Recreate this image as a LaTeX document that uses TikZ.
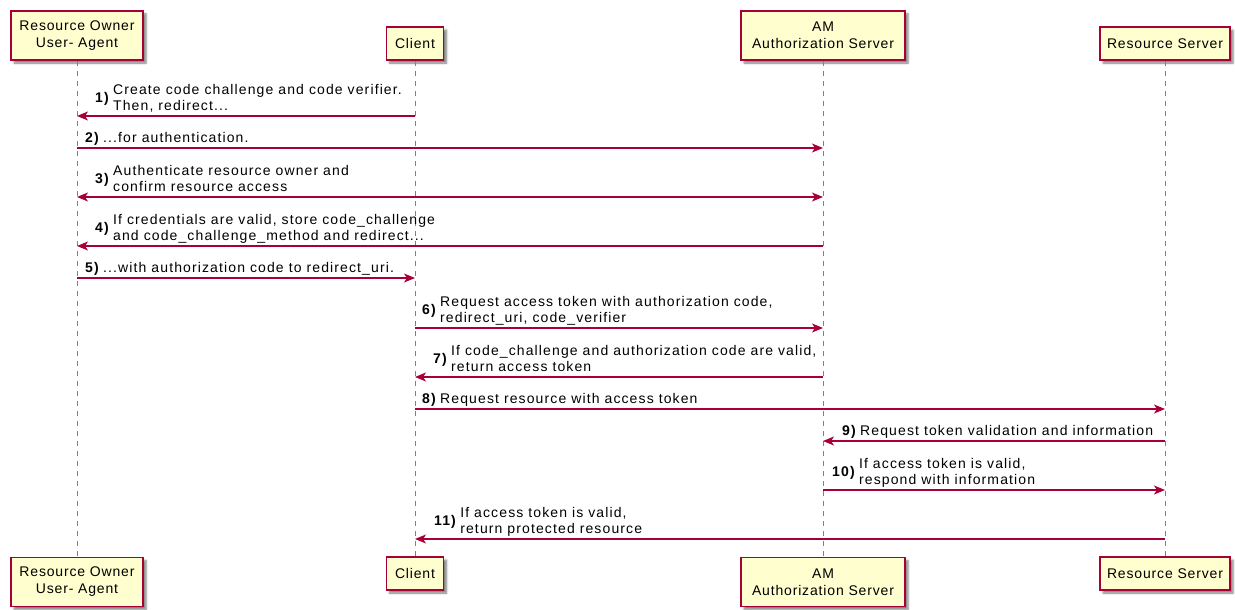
\documentclass[tikz,border=0pt]{standalone}
\usepackage{fontspec}
\setmainfont{Liberation Sans}[LetterSpace=6]
\newfontfamily\lblfont{Liberation Sans}[LetterSpace=8]
\usetikzlibrary{arrows.meta,shadows.blur,calc}
\definecolor{pumlred}{HTML}{A80036}
\definecolor{pumlfill}{HTML}{FEFECE}
\definecolor{lifegray}{HTML}{808080}
\tikzset{
  part/.style={draw=pumlred, line width=1.8pt, fill=pumlfill, inner sep=0pt, align=center,
    font=\fontsize{14}{17}\selectfont,
    blur shadow={shadow xshift=3pt, shadow yshift=-3pt, shadow blur steps=5, shadow blur radius=2pt, shadow opacity=50}},
  life/.style={draw=lifegray, line width=0.8pt, dash pattern=on 5pt off 5pt},
  msg/.style={draw=pumlred, line width=1.5pt, -{Stealth[length=11pt,width=9pt,inset=3pt]}},
  bimsg/.style={draw=pumlred, line width=1.5pt, {Stealth[length=11pt,width=9pt,inset=3pt]}-{Stealth[length=11pt,width=9pt,inset=3pt]}},
  num/.style={anchor=base west, inner sep=0pt, font=\lblfont\fontsize{14}{16}\selectfont\bfseries},
  txt/.style={anchor=base west, inner sep=0pt, font=\lblfont\fontsize{14}{16}\selectfont},
}
\begin{document}
\begin{tikzpicture}[x=1pt,y=-1pt]
\useasboundingbox (0,0) rectangle (1235,610);
% participants top
\node[part, minimum width=132pt, minimum height=49pt] (roT) at (77,35.5) {Resource Owner\\User- Agent};
\node[part, minimum width=57pt, minimum height=33pt] (clT) at (415,43.5) {Client};
\node[part, minimum width=164pt, minimum height=49pt] (amT) at (823,35.5) {AM\\Authorization Server};
\node[part, minimum width=130pt, minimum height=33pt] (rsT) at (1165,43.5) {Resource Server};
% participants bottom
\node[part, minimum width=132pt, minimum height=49pt] (roB) at (77,582) {Resource Owner\\User- Agent};
\node[part, minimum width=57pt, minimum height=33pt] (clB) at (415,573.5) {Client};
\node[part, minimum width=164pt, minimum height=49pt] (amB) at (823,582) {AM\\Authorization Server};
\node[part, minimum width=130pt, minimum height=33pt] (rsB) at (1165,573.5) {Resource Server};
% lifelines
\draw[life] (roT) -- (roB);
\draw[life] (clT) -- (clB);
\draw[life] (amT) -- (amB);
\draw[life] (rsT) -- (rsB);
% messages
\draw[msg] (clT |- 0,116) -- (roT |- 0,116);
\draw[msg] (roT |- 0,148) -- (amT |- 0,148);
\draw[bimsg] (roT |- 0,197) -- (amT |- 0,197);
\draw[msg] (amT |- 0,246) -- (roT |- 0,246);
\draw[msg] (roT |- 0,278) -- (clT |- 0,278);
\draw[msg] (clT |- 0,328) -- (amT |- 0,328);
\draw[msg] (amT |- 0,377) -- (clT |- 0,377);
\draw[msg] (clT |- 0,409) -- (rsT |- 0,409);
\draw[msg] (rsT |- 0,441) -- (amT |- 0,441);
\draw[msg] (amT |- 0,490) -- (rsT |- 0,490);
\draw[msg] (rsT |- 0,539) -- (clT |- 0,539);
% labels
\node[num] (n1) at (95,102.5) {1)};
\node[txt] (t1a) at ([xshift=4pt,yshift=8pt]n1.base east) {Create code challenge and code verifier.};
\node[txt] (t1b) at ([xshift=4pt,yshift=-8pt]n1.base east) {Then, redirect...};
\node[num] (n2) at (85,142.5) {2)};
\node[txt] (t2a) at ([xshift=4pt]n2.base east) {...for authentication.};
\node[num] (n3) at (95,183.5) {3)};
\node[txt] (t3a) at ([xshift=4pt,yshift=8pt]n3.base east) {Authenticate resource owner and};
\node[txt] (t3b) at ([xshift=4pt,yshift=-8pt]n3.base east) {confirm resource access};
\node[num] (n4) at (95,232.5) {4)};
\node[txt] (t4a) at ([xshift=4pt,yshift=8pt]n4.base east) {If credentials are valid, store code\_challenge};
\node[txt] (t4b) at ([xshift=4pt,yshift=-8pt]n4.base east) {and code\_challenge\_method and redirect...};
\node[num] (n5) at (85,272.5) {5)};
\node[txt] (t5a) at ([xshift=4pt]n5.base east) {...with authorization code to redirect\_uri.};
\node[num] (n6) at (422,314.5) {6)};
\node[txt] (t6a) at ([xshift=4pt,yshift=8pt]n6.base east) {Request access token with authorization code,};
\node[txt] (t6b) at ([xshift=4pt,yshift=-8pt]n6.base east) {redirect\_uri, code\_verifier};
\node[num] (n7) at (433,363.5) {7)};
\node[txt] (t7a) at ([xshift=4pt,yshift=8pt]n7.base east) {If code\_challenge and authorization code are valid,};
\node[txt] (t7b) at ([xshift=4pt,yshift=-8pt]n7.base east) {return access token};
\node[num] (n8) at (422,403.5) {8)};
\node[txt] (t8a) at ([xshift=4pt]n8.base east) {Request resource with access token};
\node[num] (n9) at (842,435.5) {9)};
\node[txt] (t9a) at ([xshift=4pt]n9.base east) {Request token validation and information};
\node[num] (n10) at (832,476.5) {10)};
\node[txt] (t10a) at ([xshift=4pt,yshift=8pt]n10.base east) {If access token is valid,};
\node[txt] (t10b) at ([xshift=4pt,yshift=-8pt]n10.base east) {respond with information};
\node[num] (n11) at (434,525.5) {11)};
\node[txt] (t11a) at ([xshift=4pt,yshift=8pt]n11.base east) {If access token is valid,};
\node[txt] (t11b) at ([xshift=4pt,yshift=-8pt]n11.base east) {return protected resource};
\end{tikzpicture}
\end{document}
